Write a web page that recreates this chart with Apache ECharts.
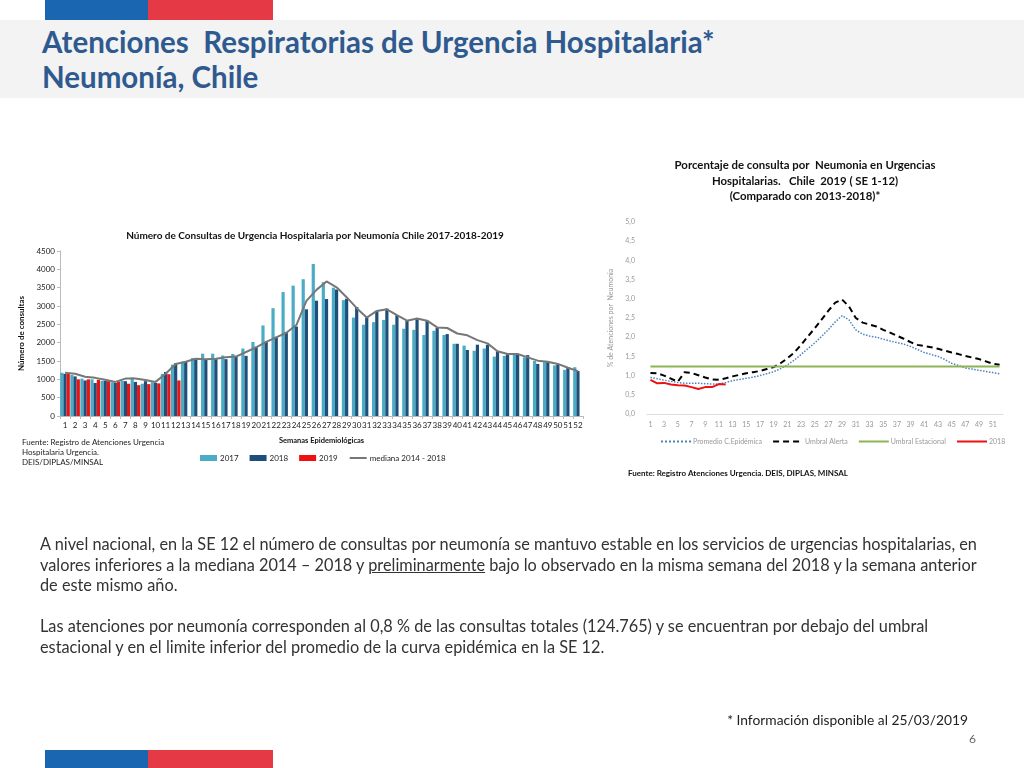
<!DOCTYPE html>
<html>
<head>
<meta charset="utf-8">
<script src="https://cdn.jsdelivr.net/npm/echarts@6/dist/echarts.min.js"></script>
<style>
  html,body{margin:0;padding:0;width:1024px;height:768px;overflow:hidden;background:#fff;font-family:Lato, "Open Sans", sans-serif;}
  #chart{position:absolute;left:0;top:0;width:1024px;height:768px;}
  .abs{position:absolute;white-space:nowrap;}
</style>
</head>
<body>
<div class="abs" style="left:0;top:20px;width:1024px;height:78px;background:#f3f3f3;"></div>
<div class="abs" style="left:45px;top:0;width:103px;height:20px;background:#1a66b0;"></div>
<div class="abs" style="left:148px;top:0;width:125px;height:20px;background:#e63946;"></div>
<div class="abs" style="left:45px;top:750px;width:103px;height:18px;background:#1a66b0;"></div>
<div class="abs" style="left:148px;top:750px;width:125px;height:18px;background:#e63946;"></div>
<div class="abs" style="left:42px;top:24px;font-weight:bold;font-size:29.5px;line-height:35px;color:#2f5a8f;">Atenciones&nbsp; Respiratorias de Urgencia Hospitalaria*<br>Neumonía, Chile</div>

<div id="chart"></div>

<div class="abs" style="left:40px;top:534px;font-size:16.3px;line-height:20.5px;color:#333;">A nivel nacional, en la SE 12 el número de consultas por neumonía se mantuvo estable en los servicios de urgencias hospitalarias, en<br>valores inferiores a la mediana 2014 – 2018 y <u>preliminarmente</u> bajo lo observado en la misma semana del 2018 y la semana anterior<br>de este mismo año.<br><br>Las atenciones por neumonía corresponden al 0,8 % de las consultas totales (124.765) y se encuentran por debajo del umbral<br>estacional y en el limite inferior del promedio de la curva epidémica en la SE 12.</div>
<div class="abs" style="right:56px;top:711px;font-size:13.8px;color:#222;">* Información disponible al 25/03/2019</div>
<div class="abs" style="left:969px;top:731px;font-size:12px;color:#666;">6</div>

<script>
var weeks = ['1','2','3','4','5','6','7','8','9','10','11','12','13','14','15','16','17','18','19','20','21','22','23','24','25','26','27','28','29','30','31','32','33','34','35','36','37','38','39','40','41','42','43','44','45','46','47','48','49','50','51','52'];

var d2017 = [1180,1120,1020,1000,960,920,960,1050,880,920,1150,1400,1480,1580,1700,1700,1650,1690,1840,2020,2470,2940,3380,3555,3730,4145,3650,3500,3160,2685,2490,2560,2620,2490,2380,2350,2210,2325,2210,1970,1920,1780,1840,1620,1640,1690,1600,1500,1470,1380,1260,1330];
var d2018 = [1150,1080,970,900,960,900,950,930,950,900,1200,1440,1480,1530,1550,1550,1550,1620,1640,1890,2030,2160,2290,2440,2910,3145,3190,3450,3200,2970,2694,2865,2930,2750,2600,2640,2600,2400,2234,1970,1800,1945,1945,1765,1710,1690,1660,1420,1470,1420,1315,1225];
var d2019 = [1150,1000,1000,990,950,940,880,840,870,890,1140,970];
var mediana = [1180,1150,1070,1040,990,930,1020,1020,980,930,1150,1420,1480,1560,1550,1560,1600,1620,1745,1870,2020,2145,2270,2480,3140,3440,3670,3510,3240,2940,2685,2865,2910,2750,2600,2660,2600,2415,2400,2250,2200,2070,1980,1765,1690,1690,1600,1510,1480,1420,1315,1225];

var promedio = [0.95,0.92,0.88,0.85,0.82,0.80,0.80,0.80,0.79,0.78,0.78,0.82,0.87,0.90,0.93,0.96,1.00,1.05,1.10,1.18,1.28,1.40,1.55,1.70,1.85,2.02,2.20,2.40,2.56,2.45,2.19,2.08,2.03,2.00,1.95,1.90,1.86,1.82,1.76,1.68,1.60,1.55,1.50,1.42,1.32,1.26,1.20,1.17,1.14,1.11,1.08,1.05];
var alerta = [1.07,1.06,1.00,0.92,0.84,1.09,1.07,1.01,0.95,0.90,0.89,0.93,0.98,1.02,1.06,1.09,1.12,1.17,1.22,1.32,1.45,1.60,1.80,2.02,2.23,2.46,2.69,2.90,2.98,2.80,2.50,2.38,2.33,2.28,2.19,2.12,2.04,1.96,1.87,1.80,1.77,1.74,1.70,1.65,1.60,1.56,1.51,1.47,1.43,1.37,1.31,1.28];
var estacional = [1.24,1.24,1.24,1.24,1.24,1.24,1.24,1.24,1.24,1.24,1.24,1.24,1.24,1.24,1.24,1.24,1.24,1.24,1.24,1.24,1.24,1.24,1.24,1.24,1.24,1.24,1.24,1.24,1.24,1.24,1.24,1.24,1.24,1.24,1.24,1.24,1.24,1.24,1.24,1.24,1.24,1.24,1.24,1.24,1.24,1.24,1.24,1.24,1.24,1.24,1.24,1.24];
var actual = [0.89,0.80,0.81,0.77,0.75,0.74,0.70,0.65,0.70,0.70,0.78,0.77];

var yTicksLeft = {min:0, max:4500, interval:500};
var yTicksRight = {min:0, max:5, interval:0.5};

var FF = 'Lato, "Open Sans", sans-serif';
var noSym = {opacity:0};
var chart = echarts.init(document.getElementById('chart'));
chart.setOption({
  animation:false,
  textStyle:{fontFamily:FF},
  graphic:[
    {type:'text', x:315, y:236, style:{text:'Número de Consultas de Urgencia Hospitalaria por Neumonía Chile 2017-2018-2019', textAlign:'center', textVerticalAlign:'middle', font:'bold 10px '+FF, fill:'#111'}},
    {type:'text', x:22, y:437, style:{text:'Fuente: Registro de Atenciones Urgencia\nHospitalaria Urgencia.\nDEIS/DIPLAS/MINSAL', textAlign:'left', textVerticalAlign:'top', font:'8px '+FF, fill:'#222', lineHeight:10}},
    {type:'text', x:805, y:181, style:{text:'Porcentaje de consulta por  Neumonia en Urgencias\nHospitalarias.   Chile  2019 ( SE 1-12)\n(Comparado con 2013-2018)*', textAlign:'center', textVerticalAlign:'middle', font:'bold 11.4px '+FF, fill:'#111', lineHeight:15.5}},
    {type:'text', x:628, y:473, style:{text:'Fuente: Registro Atenciones Urgencia. DEIS, DIPLAS, MINSAL', textAlign:'left', textVerticalAlign:'middle', font:'bold 8px '+FF, fill:'#111'}}
  ],
  grid:[
    {left:60, top:251, width:523, height:165},
    {left:647, top:222, width:356, height:192}
  ],
  legend:[
    {left:195, top:449, itemWidth:17, itemHeight:6, itemGap:11, textStyle:{fontSize:8, color:'#222', padding:[0,0,0,-2]},
     data:[{name:'2017', icon:'rect'},{name:'2018', icon:'rect'},{name:'2019', icon:'rect'},{name:'mediana 2014 - 2018', itemStyle:noSym}]},
    {left:655, top:433, itemWidth:30, itemHeight:8, itemGap:10, textStyle:{fontSize:7, color:'#999', padding:[0,0,0,-3]},
     itemStyle:noSym,
     data:['Promedio C.Epidémica','Umbral Alerta','Umbral Estacional','2018 ']}
  ],
  xAxis:[
    {type:'category', gridIndex:0, data:weeks, boundaryGap:true,
     axisLine:{lineStyle:{color:'#bbb'}}, axisTick:{show:true, length:3, interval:0, lineStyle:{color:'#bbb'}},
     axisLabel:{interval:0, fontSize:8, color:'#222', margin:5},
     name:'Semanas Epidemiológicas', nameLocation:'middle', nameGap:21, nameTextStyle:{fontSize:7.5, fontWeight:'bold', color:'#111'}},
    {type:'category', gridIndex:1, data:weeks, boundaryGap:true,
     axisLine:{lineStyle:{color:'#ddd'}}, axisTick:{show:false},
     axisLabel:{interval:1, fontSize:7, color:'#999', margin:7}}
  ],
  yAxis:[
    {type:'value', gridIndex:0, min:yTicksLeft.min, max:yTicksLeft.max, interval:yTicksLeft.interval,
     splitLine:{show:false}, axisLine:{show:true, lineStyle:{color:'#bbb'}}, axisTick:{show:true, length:3, lineStyle:{color:'#bbb'}},
     axisLabel:{fontSize:8, color:'#222', margin:5, formatter:function(v){return String(v);}},
     name:'Número de consultas', nameLocation:'middle', nameGap:30, nameTextStyle:{fontSize:8, fontWeight:'bold', color:'#111'}},
    {type:'value', gridIndex:1, min:yTicksRight.min, max:yTicksRight.max, interval:yTicksRight.interval,
     splitLine:{show:false}, axisLine:{show:false}, axisTick:{show:false},
     axisLabel:{fontSize:7, color:'#999', margin:12, formatter:function(v){return v.toFixed(1).replace('.',',');}},
     name:'% de Atenciones por  Neumonia', nameLocation:'middle', nameGap:33, nameTextStyle:{fontSize:7, color:'#999'}}
  ],
  series:[
    {name:'2017', type:'bar', xAxisIndex:0, yAxisIndex:0, data:d2017, barWidth:3.2, barGap:'0%', itemStyle:{color:'#4bacc6'}},
    {name:'2018', type:'bar', xAxisIndex:0, yAxisIndex:0, data:d2018, barWidth:3.2, barGap:'0%', itemStyle:{color:'#1f4e79'}},
    {name:'2019', type:'bar', xAxisIndex:0, yAxisIndex:0, data:d2019, barWidth:3.2, barGap:'0%', itemStyle:{color:'#ee1111'}},
    {name:'mediana 2014 - 2018', type:'line', xAxisIndex:0, yAxisIndex:0, data:mediana, symbol:'none', lineStyle:{color:'#777', width:2}, itemStyle:{color:'#777'}, z:5},
    {name:'Promedio C.Epidémica', type:'line', xAxisIndex:1, yAxisIndex:1, data:promedio, symbol:'none', lineStyle:{color:'#4f81bd', width:1.5, type:'dotted'}, itemStyle:{color:'#4f81bd'}},
    {name:'Umbral Alerta', type:'line', xAxisIndex:1, yAxisIndex:1, data:alerta, symbol:'none', lineStyle:{color:'#000', width:2, type:[6,4]}, itemStyle:{color:'#000'}},
    {name:'Umbral Estacional', type:'line', xAxisIndex:1, yAxisIndex:1, data:estacional, symbol:'none', lineStyle:{color:'#8db356', width:2}, itemStyle:{color:'#8db356'}},
    {name:'2018 ', type:'line', xAxisIndex:1, yAxisIndex:1, data:actual, symbol:'none', lineStyle:{color:'#ee1111', width:2}, itemStyle:{color:'#ee1111'}, z:6}
  ]
});
</script>
</body>
</html>
